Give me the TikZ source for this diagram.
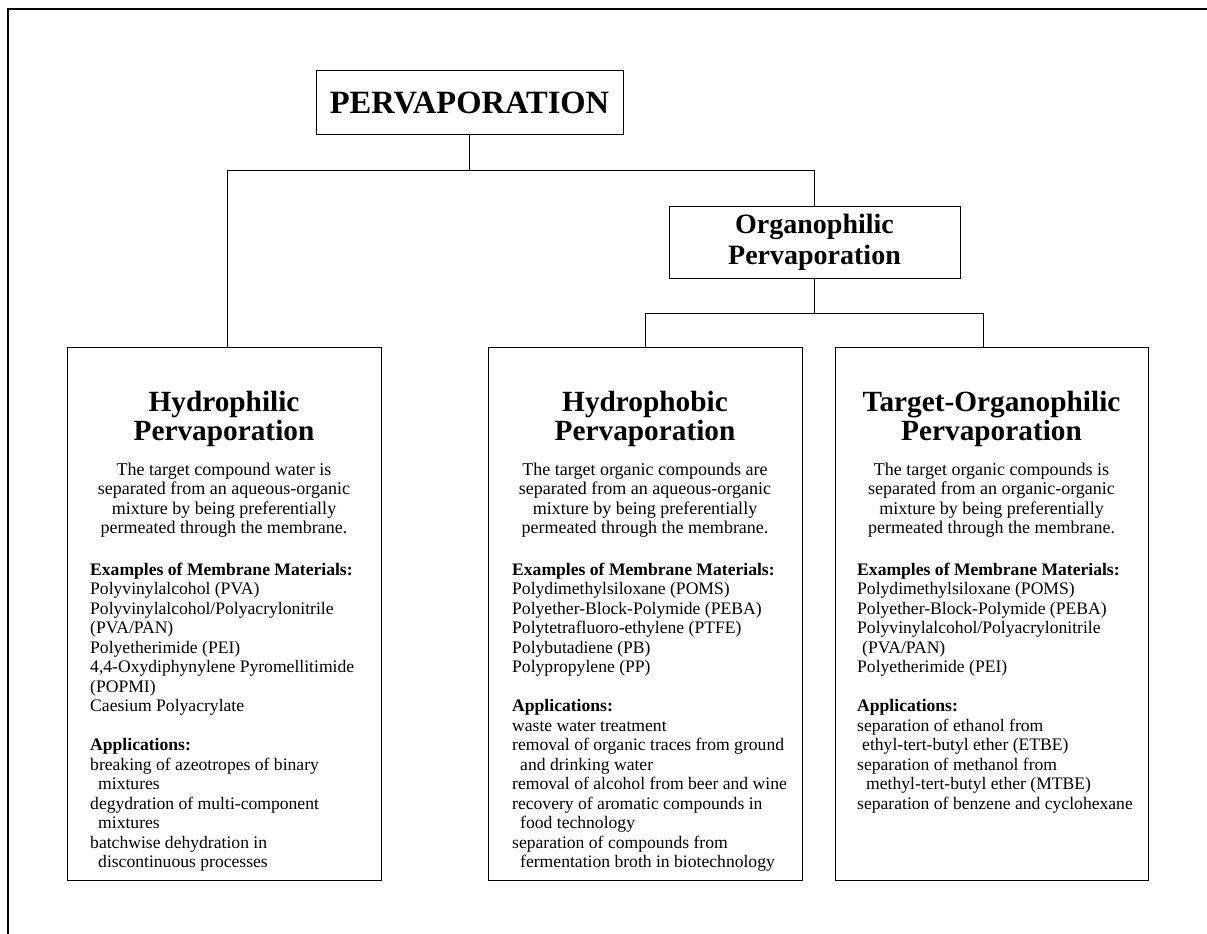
\documentclass[tikz,border=0pt]{standalone}
\usepackage{fontspec}
\setmainfont{Liberation Serif}

\newcommand\titlefont{\fontsize{32.5}{34}\selectfont\bfseries}
\newcommand\orgfont{\fontsize{28}{31}\selectfont\bfseries}
\newcommand\headfont{\fontsize{29.3}{28.5}\selectfont\bfseries}
\newcommand\descfont{\fontsize{18}{19.5}\selectfont}
\newcommand\listfont{\fontsize{17.6}{19.5}\selectfont}
\newcommand\headstrut{\rule{0pt}{24pt}}
\newcommand\bodystrut{\rule{0pt}{16pt}}

\begin{document}
\begin{tikzpicture}[x=1pt,y=-1pt,
    box/.style={draw, line width=1pt, inner sep=0pt},
    head/.style={anchor=north, inner sep=0pt, align=center, font=\headfont},
    desc/.style={anchor=north, inner sep=0pt, align=center, font=\descfont},
    list/.style={anchor=north west, inner sep=0pt, align=left, font=\listfont},
    link/.style={line width=1pt}]
    \useasboundingbox (0,0) rectangle (1207,934);

    % Frame
    \draw[line width=1.4pt] (8,934) -- (8,9) -- (1207,9);

    % Top level
    \node[box, minimum width=307, minimum height=63, font=\titlefont] (perv) at (469.5,102.5) {PERVAPORATION};
    \node[box, minimum width=291, minimum height=72, align=center, font=\orgfont] (organo) at (814.5,242) {Organophilic\\Pervaporation};

    % The three classes
    \node[box, minimum width=314, minimum height=533] (hphil) at (224,613.5) {};
    \node[box, minimum width=314, minimum height=533] (hphob) at (645,613.5) {};
    \node[box, minimum width=313, minimum height=533] (tgt) at (991.5,613.5) {};

    % Connectors
    \coordinate (split) at (perv.south |- 0,170);
    \coordinate (fork) at (organo.south |- 0,313);
    \draw[link] (perv.south) -- (split);
    \draw[link] (split) -| ([xshift=3pt]hphil.north);
    \draw[link] (split) -| (organo.north);
    \draw[link] (organo.south) -- (fork);
    \draw[link] (fork) -| (hphob.north);
    \draw[link] (fork) -| ([xshift=-8.5pt]tgt.north);

    % Hydrophilic
    \node[head] (hphil-h) at (224,387.7) {\headstrut Hydrophilic\\Pervaporation};
    \node[desc] (hphil-d) at (224,459) {\bodystrut The target compound water is\\separated from an aqueous-organic\\mixture by being preferentially\\permeated through the membrane.};
    \node[list] (hphil-l) at (90,559) {\bodystrut\textbf{Examples of Membrane Materials:}\\
        Polyvinylalcohol (PVA)\\
        Polyvinylalcohol/Polyacrylonitrile\\
        (PVA/PAN)\\
        Polyetherimide (PEI)\\
        4,4-Oxydiphynylene Pyromellitimide\\
        (POPMI)\\
        Caesium Polyacrylate\\[19.5pt]
        \textbf{Applications:}\\
        breaking of azeotropes of binary\\
        \hspace*{8pt}mixtures\\
        degydration of multi-component\\
        \hspace*{8pt}mixtures\\
        batchwise dehydration in\\
        \hspace*{8pt}discontinuous processes};

    % Hydrophobic
    \node[head] (hphob-h) at (645,387.7) {\headstrut Hydrophobic\\Pervaporation};
    \node[desc] (hphob-d) at (645,459) {\bodystrut The target organic compounds are\\separated from an aqueous-organic\\mixture by being preferentially\\permeated through the membrane.};
    \node[list] (hphob-l) at (512,559) {\bodystrut\textbf{Examples of Membrane Materials:}\\
        Polydimethylsiloxane (POMS)\\
        Polyether-Block-Polymide (PEBA)\\
        Polytetrafluoro-ethylene (PTFE)\\
        Polybutadiene (PB)\\
        Polypropylene (PP)\\[19.5pt]
        \textbf{Applications:}\\
        waste water treatment\\
        removal of organic traces from ground\\
        \hspace*{8pt}and drinking water\\
        removal of alcohol from beer and wine\\
        recovery of aromatic compounds in\\
        \hspace*{8pt}food technology\\
        separation of compounds from\\
        \hspace*{8pt}fermentation broth in biotechnology};

    % Target-organophilic
    \node[head] (tgt-h) at (991.5,387.7) {\headstrut Target-Organophilic\\Pervaporation};
    \node[desc] (tgt-d) at (991.5,459) {\bodystrut The target organic compounds is\\separated from an organic-organic\\mixture by being preferentially\\permeated through the membrane.};
    \node[list] (tgt-l) at (857,559) {\bodystrut\textbf{Examples of Membrane Materials:}\\
        Polydimethylsiloxane (POMS)\\
        Polyether-Block-Polymide (PEBA)\\
        Polyvinylalcohol/Polyacrylonitrile\\
        \hspace*{5pt}(PVA/PAN)\\
        Polyetherimide (PEI)\\[19.5pt]
        \textbf{Applications:}\\
        separation of ethanol from\\
        \hspace*{5pt}ethyl-tert-butyl ether (ETBE)\\
        separation of methanol from\\
        \hspace*{9pt}methyl-tert-butyl ether (MTBE)\\
        separation of benzene and cyclohexane};
\end{tikzpicture}
\end{document}
